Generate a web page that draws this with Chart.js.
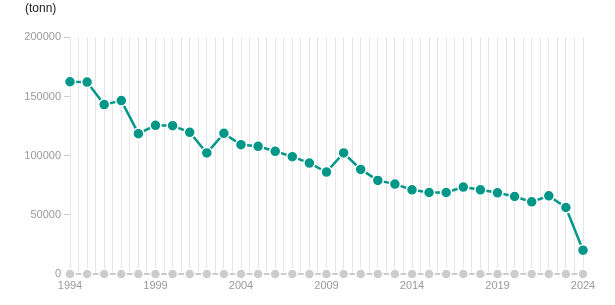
<!DOCTYPE html>
<html><head><meta charset="utf-8">
<script src="https://cdn.jsdelivr.net/npm/chart.js@4"></script>
<style>html,body{margin:0;padding:0;background:#fff}#wrap{position:relative;width:615px;height:305px}</style>
</head><body><div id="wrap"><canvas id="c" width="615" height="305"></canvas></div>
<script>
const years = [1994,1995,1996,1997,1998,1999,2000,2001,2002,2003,2004,2005,2006,2007,2008,2009,2010,2011,2012,2013,2014,2015,2016,2017,2018,2019,2020,2021,2022,2023,2024];
const values = [162500,162200,143200,146600,118600,125700,125400,119800,102300,118900,109300,107900,103700,99200,93800,86200,102300,88400,79100,76000,71200,68900,68900,73500,71200,68600,65500,61000,66100,56200,20100];
const baseline = years.map(() => 0);
const yTicks = [0,50000,100000,150000,200000];
const labelYears = [1994,1999,2004,2009,2014,2019,2024];
const unitLabel = '(tonn)';

Chart.defaults.font.family = 'Arial, "Liberation Sans", sans-serif';
new Chart(document.getElementById('c'), {
  type: 'line',
  data: {
    datasets: [
      {
        data: years.map((y,i)=>({x:y,y:values[i]})),
        borderColor: '#009688', backgroundColor: '#009688',
        borderWidth: 2.5, pointRadius: 5.5, pointBorderColor: '#fff', pointBorderWidth: 1.5,
        pointBackgroundColor: '#009688', clip: false, order: 1, tension: 0
      },
      {
        data: years.map((y,i)=>({x:y,y:baseline[i]})),
        borderColor: '#cccccc', backgroundColor: '#cccccc',
        borderWidth: 2, pointRadius: 5, pointBorderColor: '#fff', pointBorderWidth: 1.5,
        pointBackgroundColor: '#cccccc', clip: false, order: 2
      }
    ]
  },
  options: {
    responsive: false, animation: false,
    layout: { padding: { left: 25, right: 32, top: 0, bottom: 0 } },
    plugins: {
      legend: { display: false }, tooltip: { enabled: false },
      title: { display: true, text: unitLabel, align: 'start', color: '#222',
        font: { size: 12, weight: 'normal' }, padding: { top: 1, bottom: 22 } },
    },
    scales: {
      x: {
        type: 'linear', min: 1994, max: 2024,
        afterBuildTicks: (ax) => { const t=[]; for (let v=1994; v<=2024.001; v+=0.5) t.push({value:v}); ax.ticks=t; },
        ticks: { autoSkip: false, maxRotation: 0, color: '#999', font: { size: 11 }, padding: 5,
          callback: (v) => labelYears.includes(v) ? String(v) : '' },
        grid: { color: '#e6e6e6', lineWidth: 1, drawTicks: false },
        border: { display: false },
        afterFit: (ax) => { ax.height = 31; }
      },
      y: {
        min: 0, max: 200000,
        afterBuildTicks: (ax) => { ax.ticks = yTicks.map(v=>({value:v})); },
        ticks: { color: '#999', font: { size: 11 }, padding: 3, callback: (v)=>String(v) },
        grid: { drawOnChartArea: false, drawTicks: true, tickLength: 6, color: '#ccc' },
        border: { display: false },
        afterFit: (ax) => { ax.width = 45; }
      }
    }
  }
});
</script></body></html>
